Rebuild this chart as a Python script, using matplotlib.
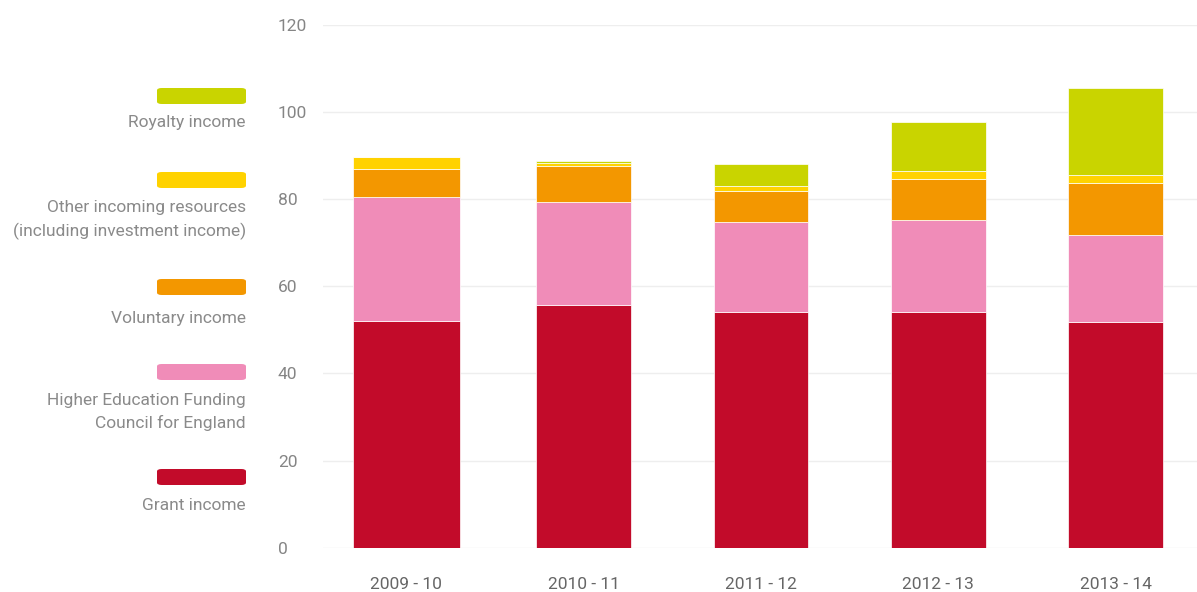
import matplotlib
matplotlib.use("Agg")
import matplotlib.pyplot as plt
from matplotlib.patches import FancyBboxPatch
import numpy as np

plt.rcParams['font.family'] = ['Roboto', 'DejaVu Sans']

years = ["2009 - 10", "2010 - 11", "2011 - 12", "2012 - 13", "2013 - 14"]
grant = [52.1, 55.6, 54.1, 54.1, 51.9]
hefce = [28.3, 23.7, 20.7, 21.1, 19.8]
voluntary = [6.5, 8.4, 7.1, 9.4, 12.1]
other = [2.7, 0.5, 1.2, 1.8, 1.7]
royalty = [0.0, 0.5, 4.9, 11.3, 20.0]

series_names = ["Grant income",
                "Higher Education Funding\nCouncil for England",
                "Voluntary income",
                "Other incoming resources\n(including investment income)",
                "Royalty income"]
series_vals = [grant, hefce, voluntary, other, royalty]
colors = ["#C20B2A", "#F08CB8", "#F39700", "#FFD200", "#C9D400"]

W, H = 1197, 592
fig = plt.figure(figsize=(W / 100, H / 100), dpi=100)
y0, y120 = 547.7, 24.9
ax = fig.add_axes([323 / W, 1 - y0 / H, 1 - 323 / W, (y0 - y120) / H])

x = np.arange(len(years))
widths = [0.60, 0.534, 0.534, 0.534, 0.534]
bottom = np.zeros(len(years))
for vals, c in zip(series_vals, colors):
    v = np.array(vals)
    ax.bar(x, v, width=widths, bottom=bottom, color=c, edgecolor="white",
           linewidth=0.5, zorder=3)
    bottom += v

ax.set_ylim(0, 120)
ax.set_xlim(-0.47, 4.46)
ax.set_yticks(np.arange(0, 121, 20))
ax.grid(axis="y", color="#eeeeee", linewidth=1, zorder=0)
ax.set_xticks(x)
ax.set_xticklabels(years, fontsize=12.5, color="#666666")
ax.tick_params(axis="x", length=0, pad=21)
ax.tick_params(axis="y", length=0, pad=0, labelsize=12.5, labelcolor="#858585")
for lab in ax.get_yticklabels():
    lab.set_horizontalalignment("left")
    lab.set_x(-45 / (W - 323))
for s in ax.spines.values():
    s.set_visible(False)

# legend (left side)
rect_centers = [477, 372, 287, 180, 96]
text_centers = [505, 412, 318, 220, 123]
for name, c, rc, tc in zip(series_names, colors, rect_centers, text_centers):
    rx0, rx1 = 157 / W, 246 / W
    rh = 16 / H
    p = FancyBboxPatch((rx0, 1 - rc / H - rh / 2), rx1 - rx0, rh,
                       boxstyle="round,pad=0,rounding_size=0.004",
                       transform=fig.transFigure, facecolor=c, edgecolor="none")
    fig.patches.append(p)
    fig.text(246 / W, 1 - tc / H, name, ha="right", va="center", fontsize=12.5,
             color="#8a8a8a", linespacing=1.55, multialignment="right")

fig.savefig("out.png", dpi=100)
